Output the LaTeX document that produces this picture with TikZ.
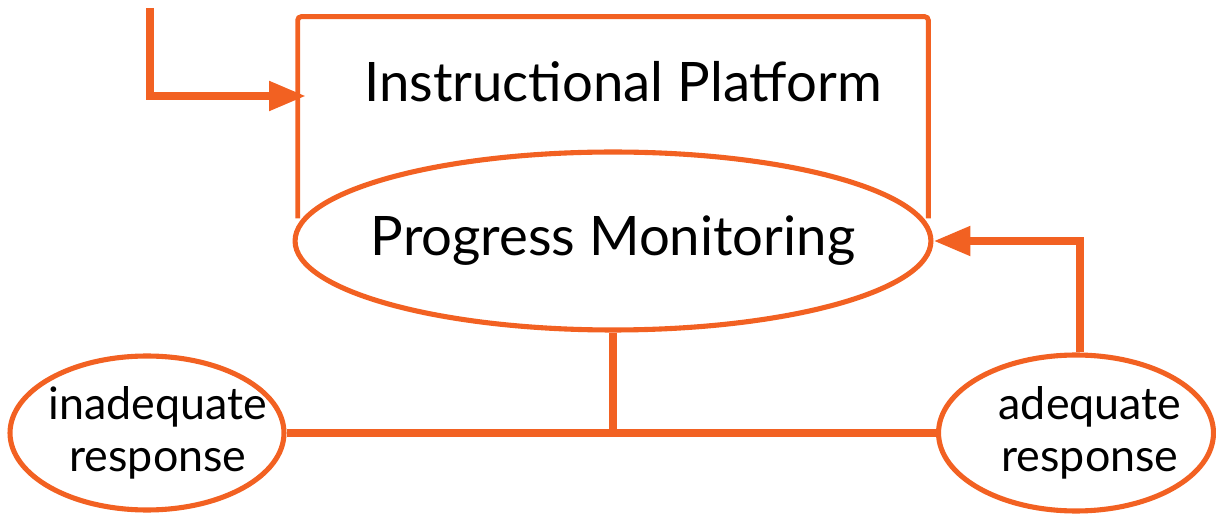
\documentclass[tikz,border=0pt]{standalone}
\usepackage{fontspec}
\setmainfont{Lato}
\usetikzlibrary{shapes.geometric,arrows.meta}
\definecolor{rtiorange}{HTML}{F26122}

\begin{document}
\begin{tikzpicture}[x=0.02cm,y=-0.02cm,
  flow/.style={draw=rtiorange,line width=4.6pt,
    -{Triangle[length=0.74cm,width=0.56cm]}},
  link/.style={draw=rtiorange,line width=4.6pt},
  bubble/.style={ellipse,draw=rtiorange,line width=2.9pt,inner sep=0pt},
  bigtext/.style={font=\fontsize{31}{36}\selectfont},
  smalltext/.style={font=\fontsize{25.5}{29.5}\selectfont,align=center}]
  \useasboundingbox (0,0) rectangle (1216,516);

  % instructional platform box (open at the bottom)
  \node [minimum width=12.6cm,minimum height=4.02cm,inner sep=0pt] (platbox)
  at (613,117.5) {};
  \node [bigtext] (plattext) at (623,82) {Instructional Platform};
  \draw [rtiorange,line width=2.8pt,rounded corners=2pt] (platbox.south west)
  -- (platbox.north west) -- (platbox.north east) -- (platbox.south east);

  \node [bubble,fill=white,minimum width=12.72cm,minimum height=3.56cm,
  label={[bigtext]center:Progress Monitoring}] (monitor) at (613,241) {};

  \node [bubble,minimum width=5.48cm,minimum height=3.08cm,
  label={[smalltext,xshift=0.22cm]center:inadequate\\response}] (inadeq)
  at (147,433) {};
  \node [bubble,minimum width=5.5cm,minimum height=3.12cm,
  label={[smalltext,xshift=0.28cm]center:adequate\\response}] (adeq)
  at (1076,433) {};

  \coordinate (in) at (150,8);
  \coordinate (entry) at (306,96);
  \draw [flow] (in) |- (entry);
  \draw [flow] (adeq.north -| 1080,0) |- (monitor.east);
  \draw [link] (monitor.south) -- (monitor.south |- inadeq.east);
  \draw [link] (inadeq.east) -- (adeq.west);
\end{tikzpicture}
\end{document}
